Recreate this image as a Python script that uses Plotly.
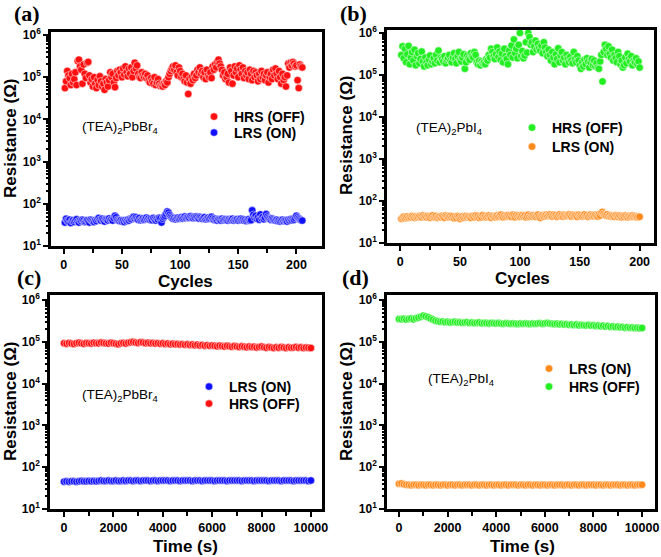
import plotly.graph_objects as go

# ---------------- data ----------------
cycles_a = list(range(1, 206))
hrs_a_kohm = [
    55, 80, 140, 110, 95, 65, 120, 75, 90, 130, 65, 240, 260, 180, 150, 70, 200, 120, 95, 220,
    230, 110, 75, 90, 60, 100, 70, 55, 85, 65, 105, 80, 60, 70, 50, 90, 75, 60, 85, 130,
    100, 120, 75, 58, 95, 140, 110, 150, 130, 100, 160, 115, 180, 130, 105, 160, 120, 170, 100, 140,
    220, 160, 190, 120, 100, 95, 130, 110, 100, 120, 95, 110, 85, 75, 95, 80, 70, 100, 65, 75,
    90, 70, 62, 65, 60, 70, 65, 80, 75, 100, 120, 140, 160, 180, 150, 190, 130, 110, 170, 140,
    100, 120, 90, 80, 110, 75, 40, 90, 70, 100, 85, 120, 95, 110, 150, 130, 170, 120, 140, 100,
    130, 90, 150, 110, 100, 130, 95, 180, 150, 200, 170, 230, 260, 210, 180, 150, 110, 130, 90, 100,
    120, 75, 170, 140, 70, 110, 180, 130, 160, 100, 190, 150, 120, 170, 95, 140, 110, 130, 90, 150,
    120, 85, 140, 100, 130, 110, 80, 120, 90, 140, 100, 120, 85, 110, 130, 75, 100, 120, 90, 150,
    110, 160, 120, 90, 140, 100, 70, 120, 85, 100, 60, 110, 210, 170, 220, 190, 230, 210, 180, 190,
    85, 55, 200, 180, 170,
]
lrs_a_ohm = [
    36, 44, 40, 38, 42, 35, 39, 41, 37, 40, 43, 38, 36, 41, 39, 42, 40, 37, 38, 41,
    39, 36, 42, 40, 38, 37, 41, 39, 43, 46, 42, 40, 44, 41, 38, 43, 42, 40, 45, 41,
    43, 40, 46, 52, 48, 42, 40, 39, 41, 38, 40, 37, 41, 39, 42, 40, 44, 43, 47, 49,
    45, 48, 44, 42, 46, 41, 43, 45, 42, 44, 47, 43, 45, 42, 44, 41, 46, 43, 40, 44,
    42, 47, 45, 36, 44, 48, 52, 58, 66, 62, 55, 50, 47, 44, 46, 43, 45, 47, 44, 46,
    48, 45, 47, 50, 46, 48, 49, 47, 51, 48, 46, 49, 47, 50, 48, 45, 49, 47, 44, 46,
    48, 43, 45, 47, 44, 46, 49, 45, 42, 44, 41, 40, 43, 42, 40, 44, 41, 42, 43, 41,
    40, 43, 41, 42, 44, 40, 42, 41, 43, 40, 42, 44, 41, 43, 40, 42, 39, 41, 43, 40,
    41, 70, 55, 47, 52, 44, 48, 42, 56, 45, 49, 43, 47, 57, 50, 46, 44, 42, 45, 43,
    41, 40, 42, 39, 41, 38, 40, 42, 39, 41, 40, 38, 42, 40, 43, 41, 44, 42, 46, 52,
    48, 45, 43, 41, 40,
]

cycles_b = list(range(1, 201))
hrs_b_kohm = [
    300, 480, 250, 420, 200, 310, 490, 180, 260, 350, 220, 400, 170, 280, 330, 190, 240, 360, 210, 160,
    260, 200, 170, 230, 290, 180, 210, 250, 190, 300, 220, 380, 200, 260, 240, 210, 280, 190, 230, 250,
    300, 220, 200, 260, 330, 240, 190, 280, 350, 230, 210, 260, 310, 140, 200, 290, 250, 230, 330, 280,
    260, 350, 300, 200, 180, 220, 170, 210, 190, 200, 180, 240, 220, 300, 260, 420, 350, 280, 240, 310,
    450, 270, 360, 230, 320, 200, 420, 280, 240, 180, 380, 300, 500, 260, 700, 330, 420, 250, 520, 1000,
    280, 370, 250, 290, 600, 340, 1000, 800, 520, 600, 350, 480, 650, 400, 550, 430, 380, 500, 330, 600,
    450, 350, 280, 400, 300, 220, 350, 260, 180, 310, 240, 430, 200, 290, 350, 220, 260, 180, 300, 240,
    200, 270, 220, 190, 350, 240, 200, 280, 220, 170, 140, 200, 160, 230, 180, 250, 210, 150, 200, 240,
    170, 220, 160, 190, 150, 140, 210, 300, 70, 350, 520, 420, 300, 480, 320, 260, 400, 220, 300, 250,
    200, 350, 280, 180, 220, 150, 170, 260, 190, 320, 240, 210, 280, 170, 220, 200, 250, 180, 210, 150,
]
lrs_b_ohm = [
    38, 40, 42, 39, 41, 43, 40, 42, 41, 44, 42, 40, 43, 41, 42, 44, 43, 41, 45, 42,
    43, 41, 44, 42, 40, 43, 45, 41, 42, 44, 40, 42, 43, 41, 44, 42, 40, 45, 43, 41,
    42, 44, 41, 43, 39, 42, 40, 44, 42, 38, 41, 43, 40, 42, 44, 41, 43, 42, 40, 44,
    43, 41, 45, 42, 44, 40, 43, 41, 46, 42, 44, 41, 43, 45, 42, 40, 44, 42, 41, 43,
    45, 42, 44, 47, 43, 41, 45, 42, 44, 46, 43, 45, 42, 47, 44, 41, 46, 43, 45, 42,
    44, 46, 43, 45, 41, 44, 47, 42, 45, 43, 46, 44, 42, 45, 47, 43, 40, 44, 46, 43,
    45, 47, 44, 46, 48, 45, 43, 47, 44, 46, 42, 45, 48, 44, 46, 43, 47, 45, 44, 46,
    48, 45, 43, 47, 44, 46, 45, 42, 47, 44, 46, 43, 45, 48, 44, 46, 42, 45, 47, 44,
    46, 44, 47, 45, 43, 48, 45, 52, 55, 50, 47, 45, 48, 44, 46, 43, 45, 44, 42, 46,
    44, 42, 45, 43, 41, 44, 42, 45, 43, 41, 44, 42, 43, 45, 42, 44, 43, 41, 43, 42,
]

time_s = list(range(0, 10001, 100))
hrs_c_kohm = [
    92, 90, 94, 91, 89, 93, 95, 92, 90, 94, 93, 91, 95, 93, 92, 96, 94, 92, 91, 95, 93,
    90, 88, 92, 94, 91, 95, 97, 99, 96, 94, 98, 96, 93, 95, 92, 94, 91, 93, 90, 92,
    89, 91, 88, 90, 87, 89, 86, 88, 85, 87, 84, 86, 83, 85, 82, 84, 81, 83, 80, 82,
    80, 78, 81, 79, 77, 80, 78, 76, 79, 77, 75, 78, 76, 74, 77, 75, 76, 73, 75, 77,
    74, 72, 75, 73, 71, 74, 72, 75, 73, 71, 74, 72, 73, 75, 72, 74, 71, 73, 72, 71,
]
lrs_c_ohm = [
    45, 46, 45, 46, 46, 45, 46, 47, 46, 46, 47, 46, 47, 46, 47, 48, 47, 47, 48, 47, 47,
    48, 47, 47, 48, 47, 48, 48, 47, 48, 48, 47, 48, 48, 48, 47, 48, 48, 47, 48, 48,
    48, 48, 47, 48, 48, 48, 47, 48, 48, 48, 48, 47, 48, 48, 48, 47, 48, 48, 48, 48,
    47, 48, 48, 48, 48, 47, 48, 48, 48, 48, 48, 47, 48, 48, 48, 48, 47, 48, 48, 48,
    48, 48, 47, 48, 48, 48, 48, 47, 48, 48, 48, 48, 47, 48, 48, 48, 48, 48, 47, 48,
]
hrs_d_kohm = [
    350, 345, 355, 340, 350, 360, 345, 365, 380, 400, 420, 405, 385, 360, 340, 320, 310, 300, 305, 295, 300,
    290, 295, 300, 288, 292, 285, 290, 295, 282, 288, 280, 285, 290, 278, 283, 280, 276, 282, 278, 275,
    280, 275, 272, 278, 274, 270, 276, 272, 268, 274, 270, 275, 272, 268, 273, 270, 275, 278, 272, 276,
    280, 275, 270, 266, 272, 262, 268, 258, 264, 255, 260, 252, 258, 248, 254, 250, 246, 252, 244, 248,
    240, 245, 236, 242, 232, 238, 228, 234, 225, 230, 222, 226, 218, 224, 216, 220, 214, 218, 212, 215,
]
lrs_d_ohm = [
    40, 41, 39, 38, 38, 37, 38, 38, 37, 38, 38, 37, 38, 38, 37, 38, 38, 37, 38, 38, 37,
    38, 38, 37, 38, 38, 37, 38, 38, 38, 37, 38, 38, 37, 38, 38, 37, 38, 38, 37, 38,
    38, 37, 38, 38, 37, 38, 38, 38, 37, 38, 38, 37, 38, 38, 37, 38, 38, 37, 38, 38,
    37, 38, 38, 37, 38, 38, 38, 37, 38, 38, 37, 38, 38, 37, 38, 38, 37, 38, 38, 38,
    37, 38, 38, 37, 38, 38, 37, 38, 38, 38, 37, 38, 38, 37, 38, 38, 37, 38, 38, 38,
]

y_tickvals = [1e1, 1e2, 1e3, 1e4, 1e5, 1e6]
y_ticktext = ["10<sup>1</sup>", "10<sup>2</sup>", "10<sup>3</sup>",
              "10<sup>4</sup>", "10<sup>5</sup>", "10<sup>6</sup>"]

compound_a = "(TEA)<sub>2</sub>PbBr<sub>4</sub>"
compound_b = "(TEA)<sub>2</sub>PbI<sub>4</sub>"
y_title = "Resistance (Ω)"

# ---------------- styling ----------------
SANS = "Liberation Sans, Arial, sans-serif"
SERIF = "Liberation Serif, Times New Roman, serif"
RED, BLUE, GREEN, ORANGE = "#ff1010", "#1010ff", "#22ee22", "#ff8a1c"

W, H = 661, 557


def fx(px):
    return px / W


def fy(py):
    return 1 - py / H


def marker(col, size=7.5):
    return dict(color=col, size=size, line=dict(color="white", width=0.5))


fig = go.Figure()


def add(x, y, name, col, xa, ya, leg, scale=1):
    fig.add_trace(go.Scatter(
        x=x, y=[v * scale for v in y], mode="markers", name=name,
        marker=marker(col), xaxis=xa, yaxis=ya, legend=leg,
    ))


add(cycles_a, hrs_a_kohm, "HRS (OFF)", RED, "x", "y", "legend", 1000)
add(cycles_a, lrs_a_ohm, "LRS (ON)", BLUE, "x", "y", "legend2")
add(cycles_b, hrs_b_kohm, "HRS (OFF)", GREEN, "x2", "y2", "legend3", 1000)
add(cycles_b, lrs_b_ohm, "LRS (ON)", ORANGE, "x2", "y2", "legend4")
add(time_s, lrs_c_ohm, "LRS (ON)", BLUE, "x3", "y3", "legend5")
add(time_s, hrs_c_kohm, "HRS (OFF)", RED, "x3", "y3", "legend6", 1000)
add(time_s, lrs_d_ohm, "LRS (ON)", ORANGE, "x4", "y4", "legend7")
add(time_s, hrs_d_kohm, "HRS (OFF)", GREEN, "x4", "y4", "legend8", 1000)


def xaxis(dom, anchor, rng, dtick, mdtick):
    return dict(
        domain=dom, anchor=anchor, range=rng, tick0=0, dtick=dtick,
        automargin=False, tickformat="d",
        showline=True, linewidth=2.5, linecolor="black", mirror=True,
        ticks="outside", ticklen=5, tickwidth=2, tickcolor="black",
        minor=dict(ticks="outside", ticklen=4, tickwidth=2, tick0=0, dtick=mdtick,
                   tickcolor="black", showgrid=False),
        showgrid=False, zeroline=False,
        tickfont=dict(family=SANS, size=12.5, color="black", weight="bold"),
    )


def yaxis(dom, anchor, rng):
    return dict(
        domain=dom, anchor=anchor, type="log", range=rng,
        tickmode="array", tickvals=y_tickvals, ticktext=y_ticktext,
        automargin=False,
        showline=True, linewidth=2.5, linecolor="black", mirror=True,
        ticks="outside", ticklen=5, tickwidth=2, tickcolor="black",
        minor=dict(ticks="outside", ticklen=2.5, tickwidth=1.5, dtick="D1",
                   tickcolor="black", showgrid=False),
        showgrid=False, zeroline=False,
        tickfont=dict(family=SANS, size=12, color="black", weight="bold"),
    )


def legend(marker_x, item_y):
    return dict(
        x=fx(marker_x - 28), y=fy(item_y), xanchor="left", yanchor="middle",
        bgcolor="rgba(0,0,0,0)", borderwidth=0, itemwidth=30,
        font=dict(family=SANS, size=14, color="black", weight="bold"),
    )


fig.update_layout(
    width=W, height=H, margin=dict(l=0, r=0, t=0, b=0),
    paper_bgcolor="white", plot_bgcolor="white", showlegend=True,
    xaxis=xaxis([fx(51), fx(322)], "y", [-11, 222], 50, 25),
    yaxis=yaxis([fy(246), fy(32)], "x", [1, 6.07]),
    xaxis2=xaxis([fx(387), fx(654)], "y2", [-11, 212], 50, 25),
    yaxis2=yaxis([fy(243), fy(30)], "x2", [1, 6.07]),
    xaxis3=xaxis([fx(50), fx(322)], "y3", [-570, 10450], 2000, 1000),
    yaxis3=yaxis([fy(509), fy(295)], "x3", [1, 6.12]),
    xaxis4=xaxis([fx(387), fx(655)], "y4", [-494, 10535], 2000, 1000),
    yaxis4=yaxis([fy(509), fy(295)], "x4", [1, 6.12]),
    legend=legend(222, 117),
    legend2=legend(222, 133),
    legend3=legend(540, 128),
    legend4=legend(540, 147),
    legend5=legend(217, 387),
    legend6=legend(217, 404),
    legend7=legend(557, 369),
    legend8=legend(557, 387),
)


def note(text, xp, yp, size, family=SANS, bold=True, angle=0):
    fig.add_annotation(text=text, x=fx(xp), y=fy(yp), xref="paper", yref="paper",
                       showarrow=False, xanchor="center", yanchor="middle",
                       textangle=angle,
                       font=dict(family=family, size=size, color="black",
                                 weight="bold" if bold else "normal"))


# panel letters
note("(a)", 27, 13, 22, SERIF)
note("(b)", 353, 13, 22, SERIF)
note("(c)", 29, 277, 22, SERIF)
note("(d)", 355, 277, 22, SERIF)

# axis titles
note("Cycles", 185, 281, 17)
note("Cycles", 522, 278, 17)
note("Time (s)", 186, 546, 17)
note("Time (s)", 522, 546, 17)
note(y_title, 10, 139, 17, angle=-90)
note(y_title, 346, 136, 17, angle=-90)
note(y_title, 10, 402, 17, angle=-90)
note(y_title, 346, 402, 17, angle=-90)

# compound labels
note(compound_a, 120, 127, 13.5, bold=False)
note(compound_b, 449, 128, 13.5, bold=False)
note(compound_a, 120, 395, 13.5, bold=False)
note(compound_b, 461, 379, 13.5, bold=False)

fig.write_html(
    "out.html",
    config={"displayModeBar": False},
    post_script="document.body.style.margin='0';document.body.style.overflow='hidden';",
)
